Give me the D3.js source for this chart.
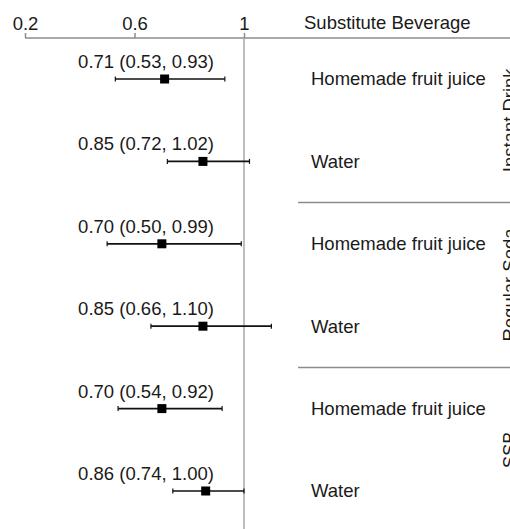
<!DOCTYPE html>
<html>
<head>
<meta charset="utf-8">
<script src="https://cdn.jsdelivr.net/npm/d3@7"></script>
<style>
  html, body { margin: 0; padding: 0; background: #fff; }
  svg { display: block; }
  text { font-family: "Liberation Sans", Arial, sans-serif; fill: #1a1a1a; }
</style>
</head>
<body>
<svg id="chart" width="510" height="529"></svg>
<script>
// ---- data ----
const groups = ["Instant Drink", "Instant Drink", "Regular Soda", "Regular Soda", "SSB", "SSB"];
const substitutes = ["Homemade fruit juice", "Water", "Homemade fruit juice", "Water", "Homemade fruit juice", "Water"];
const estimates = [0.71, 0.85, 0.70, 0.85, 0.70, 0.86];
const lowers = [0.53, 0.72, 0.50, 0.66, 0.54, 0.74];
const uppers = [0.93, 1.02, 0.99, 1.10, 0.92, 1.00];
const labels = ["0.71 (0.53, 0.93)", "0.85 (0.72, 1.02)", "0.70 (0.50, 0.99)", "0.85 (0.66, 1.10)", "0.70 (0.54, 0.92)", "0.86 (0.74, 1.00)"];
const tickValues = [0.2, 0.6, 1];
const groupNames = ["Instant Drink", "Regular Soda", "SSB"];
const headerText = "Substitute Beverage";

const rows = estimates.map((e, i) => ({ i, group: groups[i], sub: substitutes[i], est: e, lo: lowers[i], hi: uppers[i], label: labels[i] }));

const svg = d3.select("#chart");
const W = 510, H = 529;
const fs = 18.5;

const x = d3.scaleLinear().domain([0.2, 1]).range([25, 244]);
const y = d3.scalePoint().domain(d3.range(rows.length)).range([79, 491]);
const step = y.step();
const headerY = 38;

// axis on top
const axis = d3.axisTop(x).tickValues(tickValues).tickFormat(d3.format("")).tickSize(5).tickSizeOuter(0).tickPadding(3);
const ag = svg.append("g").attr("transform", `translate(0,${headerY})`).call(axis);
ag.select(".domain").remove();
ag.selectAll(".tick line").attr("stroke", "#8c8c8c").attr("stroke-width", 1.5);
ag.selectAll(".tick text").attr("font-size", fs).attr("fill", "#1a1a1a")
  .style("font-family", '"Liberation Sans", Arial, sans-serif');

// header line across full width
svg.append("line").attr("x1", x(0.2)).attr("x2", W).attr("y1", headerY).attr("y2", headerY)
  .attr("stroke", "#8c8c8c").attr("stroke-width", 1.5);

// reference line at 1
svg.append("line").attr("x1", x(1)).attr("x2", x(1)).attr("y1", headerY).attr("y2", H)
  .attr("stroke", "#a8a8a8").attr("stroke-width", 1.5);

// header text
svg.append("text").attr("x", 304).attr("y", 29).attr("font-size", fs).text(headerText);

// group separators and group labels
groupNames.forEach((g, gi) => {
  const idx = rows.filter(r => r.group === g).map(r => r.i);
  const top = gi === 0 ? headerY : y(idx[0]) - step / 2;
  const bottom = y(idx[idx.length - 1]) + step / 2;
  if (gi > 0) {
    svg.append("line").attr("x1", 298).attr("x2", W).attr("y1", top).attr("y2", top)
      .attr("stroke", "#8c8c8c").attr("stroke-width", 1.5);
  }
  const cy = (top + bottom) / 2;
  svg.append("text").attr("transform", `translate(516,${cy}) rotate(-90)`)
    .attr("text-anchor", "middle").attr("font-size", fs).text(g);
});

// rows
const rg = svg.append("g").selectAll("g").data(rows).join("g");
rg.append("line").attr("x1", d => x(d.lo)).attr("x2", d => x(d.hi))
  .attr("y1", d => y(d.i)).attr("y2", d => y(d.i)).attr("stroke", "#111").attr("stroke-width", 1.7);
rg.append("line").attr("x1", d => x(d.lo)).attr("x2", d => x(d.lo))
  .attr("y1", d => y(d.i) - 2.5).attr("y2", d => y(d.i) + 2.5).attr("stroke", "#111").attr("stroke-width", 1.2);
rg.append("line").attr("x1", d => x(d.hi)).attr("x2", d => x(d.hi))
  .attr("y1", d => y(d.i) - 2.5).attr("y2", d => y(d.i) + 2.5).attr("stroke", "#111").attr("stroke-width", 1.2);
rg.append("rect").attr("x", d => x(d.est) - 4.5).attr("y", d => y(d.i) - 4.5)
  .attr("width", 9).attr("height", 9).attr("fill", "#000");
rg.append("text").attr("x", 146).attr("y", d => y(d.i) - 11).attr("text-anchor", "middle")
  .attr("font-size", fs).text(d => d.label);
rg.append("text").attr("x", 311).attr("y", d => y(d.i)).attr("dy", "0.35em")
  .attr("font-size", fs).text(d => d.sub);
</script>
</body>
</html>
